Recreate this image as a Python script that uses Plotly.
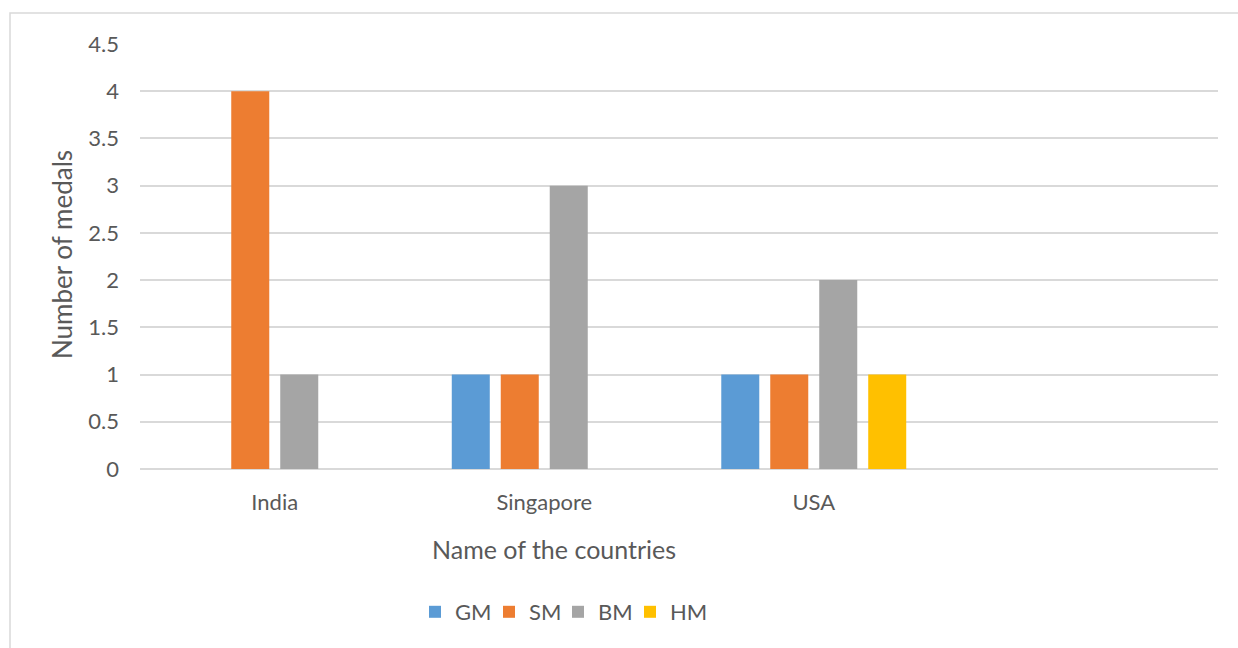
import plotly.graph_objects as go

# Medal counts per country
countries = ["India", "Singapore", "USA"]
medal_types = ["GM", "SM", "BM", "HM"]
gm = [0, 1, 1]
sm = [4, 1, 1]
bm = [1, 3, 2]
hm = [0, 0, 1]
y_ticks = [0, 0.5, 1, 1.5, 2, 2.5, 3, 3.5, 4, 4.5]

colors = {"GM": "#5B9BD5", "SM": "#ED7D31", "BM": "#A5A5A5", "HM": "#FFC000"}
series = {"GM": gm, "SM": sm, "BM": bm, "HM": hm}

FONT = "Lato, 'Open Sans', sans-serif"
TEXT = "#595959"
GRID = "#D9D9D9"

W, H = 1238, 648
L, R, T, B = 140, 20, 44, 179
pw, ph = W - L - R, H - T - B


def px_x(x):
    return (x - L) / pw


def px_y(y):
    return (H - B - y) / ph


# one single-entry legend per series, laid out in a row under the chart
legend_names = ["legend", "legend2", "legend3", "legend4"]
legend_left = [415, 489, 558, 630]

fig = go.Figure()
for name, lg in zip(medal_types, legend_names):
    fig.add_trace(go.Bar(
        x=countries, y=series[name], name=name, legend=lg,
        marker=dict(color=colors[name], line=dict(width=0)),
    ))

legend_style = dict(
    orientation="h", xanchor="left", y=px_y(612), yanchor="middle",
    font=dict(size=22, color=TEXT, family=FONT),
    itemwidth=30, bgcolor="rgba(0,0,0,0)",
)
legends = {lg: dict(legend_style, x=px_x(xl))
           for lg, xl in zip(legend_names, legend_left)}

fig.update_layout(
    width=W, height=H,
    margin=dict(l=L, r=R, t=T, b=B, autoexpand=False),
    paper_bgcolor="white", plot_bgcolor="white",
    barmode="group", bargap=0.273, bargroupgap=0.224,
    font=dict(family=FONT, color=TEXT, size=22),
    showlegend=True,
    **legends,
    xaxis=dict(
        type="category", range=[-0.5, 3.5],
        showgrid=False, zeroline=False, showline=False, ticks="",
        tickfont=dict(size=22, color=TEXT, family=FONT),
        ticklabelstandoff=18,
    ),
    yaxis=dict(
        range=[0, 4.5], tickvals=y_ticks,
        ticktext=[f"{v:g}" for v in y_ticks],
        showgrid=True, gridcolor=GRID, gridwidth=1.5,
        zeroline=True, zerolinecolor=GRID, zerolinewidth=1.5,
        showline=False, ticks="",
        tickfont=dict(size=22, color=TEXT, family=FONT),
        ticklabelstandoff=20,
    ),
    annotations=[
        dict(text="Name of the countries", xref="paper", yref="paper",
             x=px_x(554), y=px_y(549), xanchor="center", yanchor="middle",
             showarrow=False, font=dict(size=25, color=TEXT, family=FONT)),
        dict(text="Number of medals", xref="paper", yref="paper",
             x=px_x(62), y=px_y(255), xanchor="center", yanchor="middle",
             textangle=-90, showarrow=False,
             font=dict(size=26, color=TEXT, family=FONT)),
    ],
    shapes=[
        dict(type="rect", xref="paper", yref="paper",
             x0=px_x(10), x1=1.2, y0=-0.6, y1=px_y(13),
             line=dict(color=GRID, width=1.5), fillcolor="rgba(0,0,0,0)",
             layer="below"),
    ],
)

fig.write_html("out.html")
